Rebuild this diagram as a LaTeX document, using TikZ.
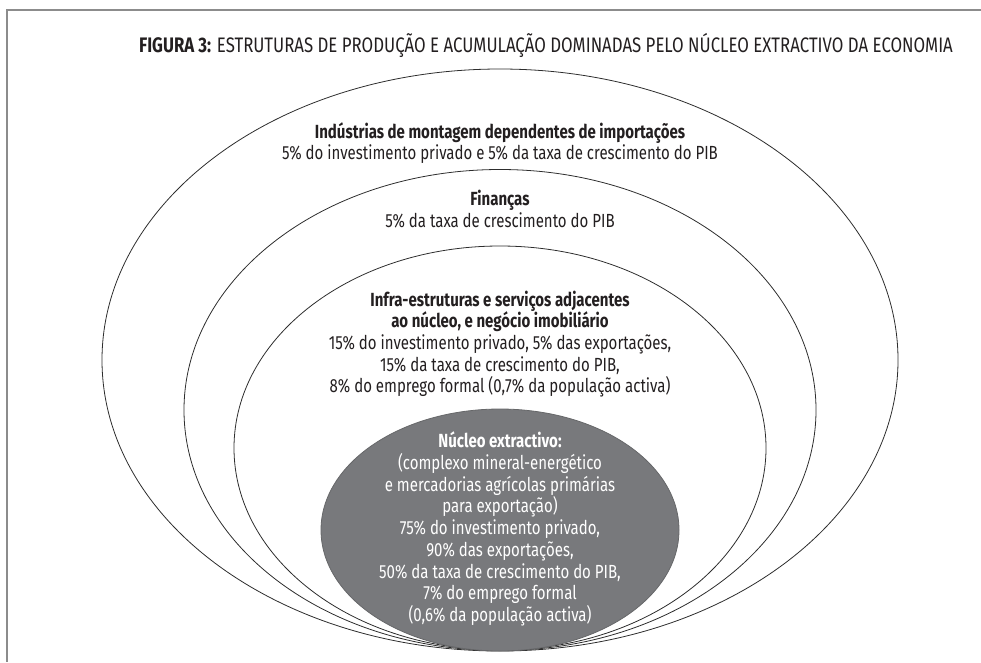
\documentclass[tikz,border=0pt]{standalone}
\usepackage{fontspec}
\setmainfont{Fira Sans}[FakeStretch=0.79]
\newfontfamily\titlefont{Fira Sans}[FakeStretch=0.80]
\usepackage{xcolor}
\usetikzlibrary{positioning, shapes.geometric}
\definecolor{corefill}{RGB}{120, 121, 124}
\definecolor{ringline}{RGB}{45, 45, 45}
\definecolor{framegray}{RGB}{140, 140, 140}
\definecolor{inkblack}{RGB}{35, 31, 32}
\tikzset{
    ring/.style={ellipse, draw=ringline, line width=0.8pt, inner sep=0pt},
    corering/.style={ring, fill=corefill, draw=corefill!85!black},
    blocktext/.style={align=center, font=\fontsize{19}{21.7}\selectfont, text=inkblack, inner sep=0pt},
    coretext/.style={blocktext, text=white},
    titletext/.style={font=\titlefont\fontsize{21}{24}\selectfont, text=inkblack, inner sep=0pt}
}

\begin{document}
\begin{tikzpicture}[x=1pt, y=-1pt]
    \useasboundingbox (0,0) rectangle (981,662);

    % frame
    \draw[framegray, line width=2pt] (981,10) -- (7,10) -- (7,662);

    % title
    \node[titletext] (title) at (546,45) {\textbf{FIGURA 3:} ESTRUTURAS DE PRODUÇÃO E ACUMULAÇÃO DOMINADAS PELO NÚCLEO EXTRACTIVO DA ECONOMIA};

    % nested rings, all touching at the bottom
    \node[ring, minimum width=796pt, minimum height=582pt] (outer) at (500,360) {};
    \node[ring, minimum width=632pt, minimum height=481pt] (fin) at (500,410) {};
    \node[ring, minimum width=532pt, minimum height=404pt] (infra) at (500,448) {};
    \node[corering, minimum width=358pt, minimum height=242pt] (core) at (500,530) {};

    % texts of the rings
    \node[blocktext] (outertext) at (500,143) {\textbf{Indústrias de montagem dependentes de importações}\\
        5\% do investimento privado e 5\% da taxa de crescimento do PIB};
    \node[blocktext] (fintext) at (500,209) {\textbf{Finanças}\\
        5\% da taxa de crescimento do PIB};
    \node[blocktext] (infratext) at (500,344) {\textbf{Infra-estruturas e serviços adjacentes}\\
        \textbf{ao núcleo, e negócio imobiliário}\\
        15\% do investimento privado, 5\% das exportações,\\
        15\% da taxa de crescimento do PIB,\\
        8\% do emprego formal (0,7\% da população activa)};
    \node[coretext] (coretext) at (500,529) {\textbf{Núcleo extractivo:}\\
        (complexo mineral-energético\\
        e mercadorias agrícolas primárias\\
        para exportação)\\
        75\% do investimento privado,\\
        90\% das exportações,\\
        50\% da taxa de crescimento do PIB,\\
        7\% do emprego formal\\
        (0,6\% da população activa)};
\end{tikzpicture}
\end{document}
